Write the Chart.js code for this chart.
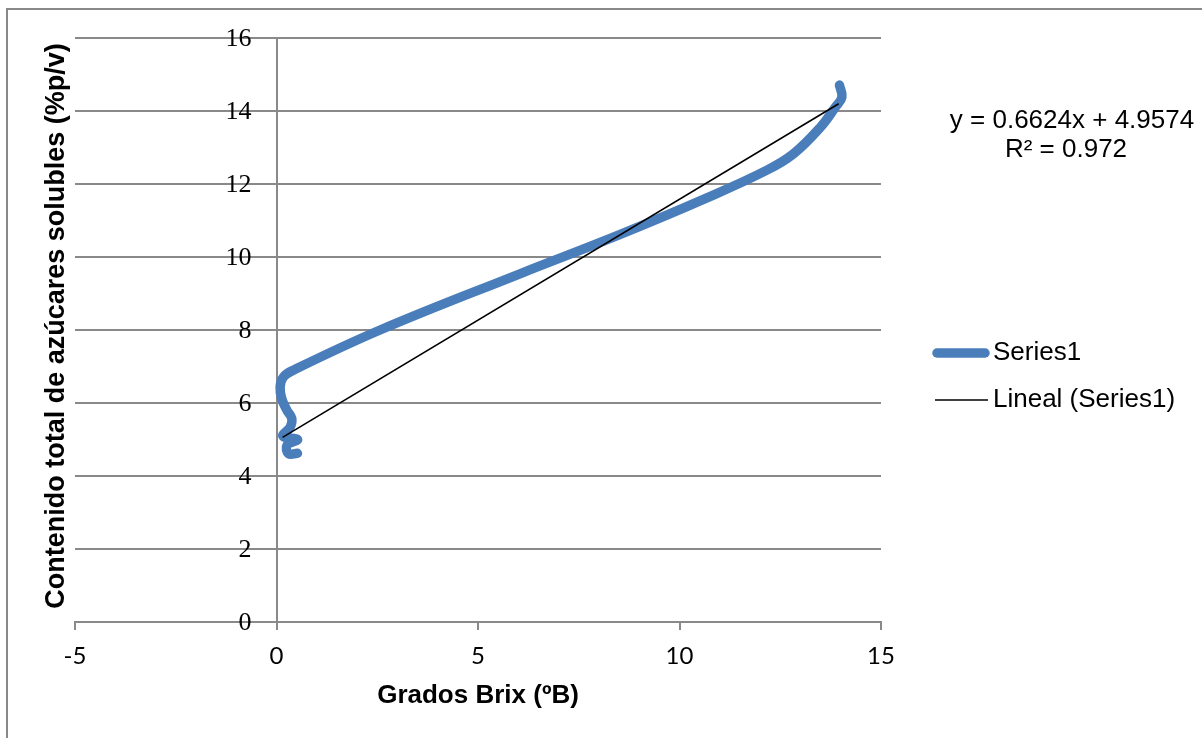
<!DOCTYPE html>
<html>
<head>
<meta charset="utf-8">
<script src="https://cdn.jsdelivr.net/npm/chart.js@4.4.1/dist/chart.umd.min.js"></script>
<style>
  html, body { margin: 0; padding: 0; background: #fff; }
</style>
</head>
<body>
<canvas id="brixChart" width="1202" height="738"></canvas>
<script>
// Datos (Grados Brix vs azúcares solubles)
const brix = [0.52, 0.30, 0.26, 0.52, 0.16, 0.34, 0.38, 0.26, 0.13, 0.09, 0.17, 0.42, 2.57, 6.04, 8.53, 10.68, 12.17, 12.83, 13.5, 13.87, 14.03, 13.97];
const azucares = [4.62, 4.61, 4.84, 5.0, 5.09, 5.34, 5.57, 5.8, 6.12, 6.44, 6.71, 6.9, 8.0, 9.54, 10.62, 11.62, 12.38, 12.83, 13.56, 14.11, 14.38, 14.71];

// Línea de tendencia lineal (según la ecuación del gráfico)
const trendSlope = 0.6624;
const trendIntercept = 4.9574;
const trendRange = [0.15, 13.95];

const xTicks = [-5, 0, 5, 10, 15];
const yTicks = [0, 2, 4, 6, 8, 10, 12, 14, 16];
const seriesNames = ['Series1', 'Lineal (Series1)'];
const ecuacion = ['y = 0.6624x + 4.9574', 'R² = 0.972'];
const xTitle = 'Grados Brix (ºB)';
const yTitle = 'Contenido total de azúcares solubles (%p/v)';

const sans = '"Liberation Sans", Arial, sans-serif';
const grisEje = '#898989';

const puntos = brix.map((b, i) => ({ x: b, y: azucares[i] }));
const tendencia = trendRange.map(x => ({ x: x, y: trendSlope * x + trendIntercept }));

// Marco, etiquetas del eje Y (junto al eje en x = 0), títulos, ecuación y leyenda
const decorado = {
  id: 'decorado',
  beforeDraw(chart) {
    const ctx = chart.ctx;
    ctx.save();
    ctx.fillStyle = '#fff';
    ctx.fillRect(0, 0, chart.width, chart.height);
    ctx.strokeStyle = grisEje;
    ctx.lineWidth = 2;
    ctx.strokeRect(7, 9, chart.width + 20, chart.height + 20);
    ctx.restore();
  },
  afterDraw(chart) {
    const ctx = chart.ctx;
    const sx = chart.scales.x, sy = chart.scales.y;
    ctx.save();
    ctx.fillStyle = '#000';

    // etiquetas del eje Y
    ctx.font = '26px "Liberation Serif", serif';
    ctx.textAlign = 'right';
    ctx.textBaseline = 'middle';
    const xEje = sx.getPixelForValue(0) - 25;
    yTicks.forEach(v => ctx.fillText(String(v), xEje, sy.getPixelForValue(v) + 1));

    ctx.save();
    ctx.translate(57, 326);
    ctx.rotate(-Math.PI / 2);
    ctx.font = 'bold 27px ' + sans;
    ctx.textAlign = 'center';
    ctx.textBaseline = 'middle';
    ctx.fillText(yTitle, 0, 0);
    ctx.restore();

    ctx.font = '26px ' + sans;
    ctx.textAlign = 'center';
    ctx.textBaseline = 'alphabetic';
    ctx.fillText(ecuacion[0], 1072, 128);
    ctx.fillText(ecuacion[1], 1066, 157);

    ctx.textAlign = 'left';
    ctx.textBaseline = 'middle';
    chart.data.datasets.forEach((ds, i) => {
      const y = 353 + i * 47;
      ctx.strokeStyle = ds.borderColor;
      ctx.lineWidth = ds.borderWidth;
      ctx.lineCap = ds.borderCapStyle || 'butt';
      ctx.beginPath();
      ctx.moveTo(i === 0 ? 937 : 935, y);
      ctx.lineTo(i === 0 ? 985 : 988, y);
      ctx.stroke();
      ctx.fillText(ds.label, 993, y);
    });
    ctx.restore();
  }
};

new Chart(document.getElementById('brixChart'), {
  type: 'scatter',
  data: {
    datasets: [{
      label: seriesNames[0],
      data: puntos,
      showLine: true,
      borderColor: '#4A7EBB',
      borderWidth: 9.5,
      borderCapStyle: 'round',
      borderJoinStyle: 'round',
      tension: 0.4,
      pointRadius: 0,
      order: 2
    }, {
      label: seriesNames[1],
      data: tendencia,
      showLine: true,
      borderColor: '#000',
      borderWidth: 1.6,
      pointRadius: 0,
      order: 1
    }]
  },
  options: {
    responsive: false,
    animation: false,
    layout: { padding: { left: 75, right: 321, top: 38, bottom: 0 } },
    plugins: { legend: { display: false }, tooltip: { enabled: false } },
    scales: {
      x: {
        type: 'linear',
        position: 'bottom',
        min: -5,
        max: 15,
        afterBuildTicks: s => { s.ticks = xTicks.map(v => ({ value: v })); },
        afterFit: s => { s.height = 116; },
        ticks: { color: '#000', font: { family: 'Lato', size: 24 }, padding: 12 },
        grid: { drawOnChartArea: false, drawTicks: true, tickLength: 8, color: grisEje, lineWidth: 2 },
        border: { color: grisEje, width: 2 },
        title: {
          display: true, text: xTitle, color: '#000',
          font: { family: sans, size: 26, weight: 'bold' },
          padding: { top: 0, bottom: 27 }
        }
      },
      y: {
        type: 'linear',
        position: { x: 0 },
        min: 0,
        max: 16,
        afterBuildTicks: s => { s.ticks = yTicks.map(v => ({ value: v })); },
        ticks: { display: false },
        grid: { color: grisEje, lineWidth: 2, tickLength: 8 },
        border: { color: grisEje, width: 2 }
      }
    }
  },
  plugins: [decorado]
});
</script>
</body>
</html>
